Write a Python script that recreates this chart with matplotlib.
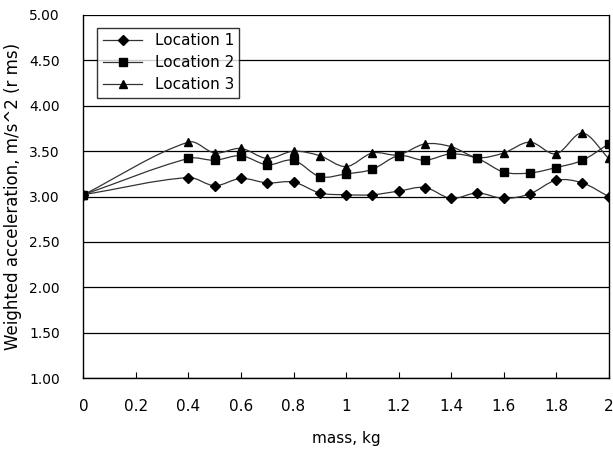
import numpy as np
import matplotlib
matplotlib.use('Agg')
import matplotlib.pyplot as plt
from matplotlib.path import Path
from matplotlib.patches import PathPatch
from matplotlib.lines import Line2D

# data
mass = [0, 0.4, 0.5, 0.6, 0.7, 0.8, 0.9, 1.0, 1.1, 1.2, 1.3, 1.4,
        1.5, 1.6, 1.7, 1.8, 1.9, 2.0]
loc1 = [3.02, 3.21, 3.12, 3.20, 3.15, 3.16, 3.04, 3.02, 3.02, 3.06, 3.10, 2.98,
        3.04, 2.98, 3.03, 3.18, 3.15, 3.00]
loc2 = [3.02, 3.42, 3.40, 3.45, 3.35, 3.40, 3.22, 3.25, 3.30, 3.45, 3.40, 3.47,
        3.42, 3.27, 3.26, 3.32, 3.40, 3.58]
loc3 = [3.02, 3.60, 3.48, 3.53, 3.42, 3.50, 3.45, 3.33, 3.48, 3.46, 3.58, 3.55,
        3.43, 3.48, 3.60, 3.47, 3.70, 3.42]
labels = ['Location 1', 'Location 2', 'Location 3']
markers = ['D', 's', '^']
msizes = [5, 5.5, 6]


def smooth_path(x, y):
    # smoothed line like the spreadsheet one (hermite pieces as beziers)
    x = np.asarray(x, float); y = np.asarray(y, float)
    n = len(x)
    m = np.zeros(n)
    for i in range(n):
        i0 = max(i - 1, 0); i1 = min(i + 1, n - 1)
        m[i] = (y[i1] - y[i0]) / (x[i1] - x[i0])
    verts = [(x[0], y[0])]
    codes = [Path.MOVETO]
    for i in range(n - 1):
        h = x[i + 1] - x[i]
        c1 = (x[i] + h / 3, y[i] + m[i] * h / 3)
        c2 = (x[i + 1] - h / 3, y[i + 1] - m[i + 1] * h / 3)
        verts += [c1, c2, (x[i + 1], y[i + 1])]
        codes += [Path.CURVE4] * 3
    return Path(verts, codes)


fig = plt.figure(figsize=(6.13, 4.54), dpi=100)
ax = fig.add_axes([0.136, 0.167, 0.857, 0.80])

for yy in np.arange(1.0, 5.01, 0.5):
    ax.axhline(yy, color='black', lw=0.9, zorder=1)

handles = []
for ys, lab, mk, ms in zip([loc1, loc2, loc3], labels, markers, msizes):
    ax.add_patch(PathPatch(smooth_path(mass, ys), fc='none', ec='#333333',
                           lw=0.9, zorder=2))
    ax.plot(mass, ys, ls='none', marker=mk, ms=ms, color='black', zorder=3)
    handles.append(Line2D([], [], color='#333333', lw=0.9, marker=mk,
                          ms=ms, mfc='black', mec='black'))

ax.set_xlim(0, 2)
ax.set_ylim(1, 5)
ax.set_xticks(np.arange(0, 2.01, 0.2))
ax.set_xticklabels(['0', '0.2', '0.4', '0.6', '0.8', '1', '1.2', '1.4',
                    '1.6', '1.8', '2'])
ax.set_yticks(np.arange(1, 5.01, 0.5))
ax.set_yticklabels(['%.2f' % v for v in np.arange(1, 5.01, 0.5)])
ax.tick_params(axis='x', direction='in', length=4, labelsize=11, pad=15)
ax.tick_params(axis='y', length=0, labelsize=10, pad=17)
for s in ['left', 'bottom', 'right']:
    ax.spines[s].set_linewidth(1.0)
ax.spines['top'].set_visible(False)

ax.set_xlabel('mass, kg', fontsize=11, labelpad=12)
ax.set_ylabel('Weighted acceleration, m/s^2 (r ms)', fontsize=12, labelpad=5)

leg = ax.legend(handles, labels, loc='upper left', bbox_to_anchor=(0.012, 0.985),
                fontsize=11, frameon=True, fancybox=False, edgecolor='black',
                handlelength=2.6, borderpad=0.35, labelspacing=0.45)
leg.get_frame().set_linewidth(1.0)

fig.savefig('out.png', dpi=100)
